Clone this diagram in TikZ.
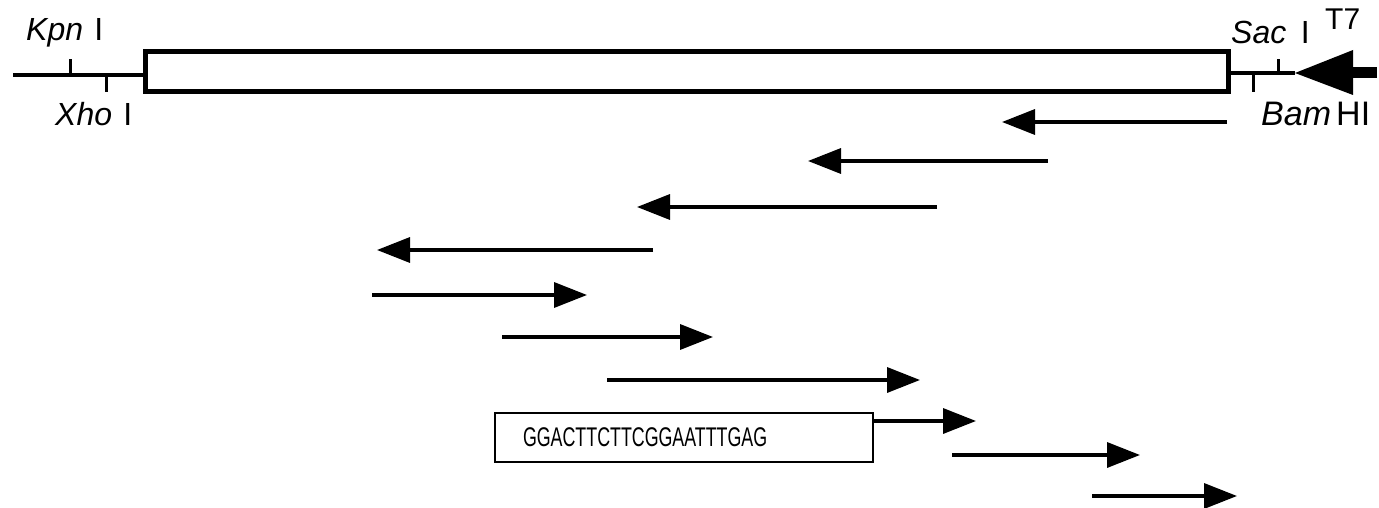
\documentclass[tikz,border=0pt]{standalone}
\usepackage{fontspec}
\setmainfont{Liberation Sans}
\usepackage{graphicx}
\usetikzlibrary{arrows.meta}
\begin{document}
\begin{tikzpicture}[x=1pt,y=-1pt,
  lbl/.style={inner sep=0pt, anchor=base west, font=\fontsize{32}{38}\selectfont},
  mapline/.style={line width=4pt},
  sitetick/.style={line width=3pt},
  seqarrow/.style={line width=3.5pt, -{Triangle[length=33pt,width=25pt]}},
]
\useasboundingbox (0,0) rectangle (1379,508);
% insert box
\node[draw, line width=5pt, minimum width=1083pt, minimum height=40pt, inner sep=0pt] (insert) at (686.5,71.5) {};
% map line
\coordinate (lend) at (13,75);
\coordinate (rend) at (1377,73);
\coordinate (t7tip) at (1295,73);
\draw[mapline] (lend) -- (lend -| insert.west);
\draw[mapline] (insert.east |- t7tip) -- (t7tip);
% T7 promoter
\fill (t7tip) -- (1353,50) -- (1353,95) -- cycle;
\draw[line width=11pt] (1350,73) -- (rend);
% restriction sites
\coordinate (kpn) at (70,75);
\coordinate (xho) at (106,75);
\coordinate (bam) at (1253,74);
\coordinate (sac) at (1278,74);
\draw[sitetick] (kpn) -- ++(0,-16);
\draw[sitetick] (xho) -- ++(0,17);
\draw[sitetick] (bam) -- ++(0,18);
\draw[sitetick] (sac) -- ++(0,-15);
% labels
\node[lbl] (kpnlbl) at (26,41) {\textit{Kpn}\hspace{0.35em}I};
\node[lbl] (xholbl) at (55,126) {\textit{Xho}\hspace{0.35em}I};
\node[lbl] (saclbl) at (1231,44) {\textit{Sac}\hspace{0.45em}I};
\node[lbl, font=\fontsize{30}{36}\selectfont] (t7lbl) at (1325,30) {T7};
\node[lbl, font=\fontsize{34}{40}\selectfont] (bamlbl) at (1261,126) {\textit{Bam}\hspace{0.15em}HI};
% sequencing reads
\coordinate (r1s) at (1227,122); \coordinate (r1e) at (1002,122);
\coordinate (r2s) at (1048,161); \coordinate (r2e) at (808,161);
\coordinate (r3s) at (937,207);  \coordinate (r3e) at (637,207);
\coordinate (r4s) at (653,250);  \coordinate (r4e) at (377,250);
\coordinate (r5s) at (372,295);  \coordinate (r5e) at (587,295);
\coordinate (r6s) at (502,337);  \coordinate (r6e) at (713,337);
\coordinate (r7s) at (607,380);  \coordinate (r7e) at (920,380);
\coordinate (r8e) at (976,421);
\coordinate (r9s) at (952,455);  \coordinate (r9e) at (1140,455);
\coordinate (r10s) at (1092,496); \coordinate (r10e) at (1237,496);
\foreach \i in {1,...,7,9,10} {\draw[seqarrow] (r\i s) -- (r\i e);}
% primer box
\node[draw, line width=2.5pt, minimum height=49pt, inner xsep=28pt, inner ysep=0pt, text width=322pt, align=left] (primer) at (684,437.5)
  {\scalebox{0.66}[1]{\fontsize{27}{32}\selectfont GGACTTCTTCGGAATTTGAG}};
\draw[seqarrow] (primer.east |- r8e) -- (r8e);
\end{tikzpicture}
\end{document}
